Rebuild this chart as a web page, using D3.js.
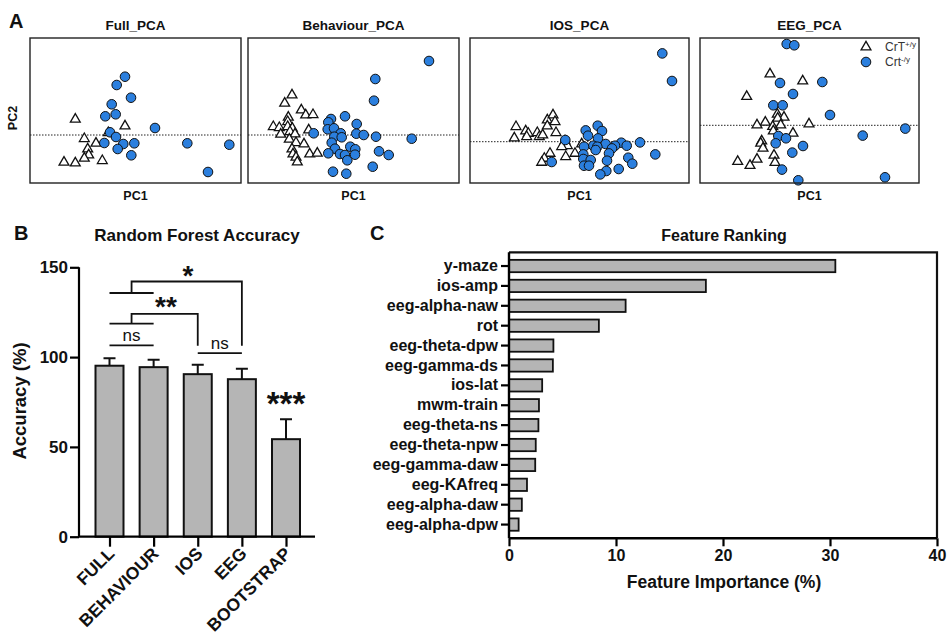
<!DOCTYPE html>
<html>
<head>
<meta charset="utf-8">
<script src="https://cdn.jsdelivr.net/npm/d3@7/dist/d3.min.js"></script>
<style>
  body { margin: 0; background: #fff; }
  text { font-family: "Liberation Sans", Arial, Helvetica, sans-serif; fill: #111; }
</style>
</head>
<body>
<div id="chart"></div>
<script>
// ---- panel A: PCA scatter data (PC1, PC2) ----
var pcaTitles = ["Full_PCA", "Behaviour_PCA", "IOS_PCA", "EEG_PCA"];

var fullWT = [[-5.47,1.57],[-0.5,0.9],[-2.17,0.23],[-4.57,-0.37],[-3.4,-0.83],[-4.23,-1.4],[-4.13,-2.0],[-4.57,-2.33],[-2.77,-2.57],[-6.6,-2.73],[-5.47,-2.8]];
var fullKO = [[-0.5,5.83],[-1.33,5.0],[0.1,3.73],[-1.83,3.07],[-2.47,1.87],[-1.43,2.07],[2.5,0.7],[-2.0,0.27],[-1.4,-0.2],[-2.57,-0.8],[-0.67,-0.9],[0.43,-0.83],[-1.23,-1.4],[0.13,-2.03],[5.73,-0.83],[9.93,-0.97],[7.8,-3.7]];

var behWT = [[-6.1,4.0],[-6.83,3.17],[-5.17,2.5],[-4.73,2.0],[-4.0,2.03],[-6.47,1.77],[-6.53,1.33],[-7.97,0.83],[-7.37,0.73],[-6.53,0.83],[-6.07,0.67],[-7.23,0.07],[-6.3,0.33],[-5.8,0.1],[-4.43,0.5],[-6.37,-0.43],[-5.7,-0.77],[-4.9,-0.9],[-6.1,-1.4],[-6.0,-1.9],[-5.7,-2.23],[-5.57,-2.7],[-4.33,-1.9],[-3.57,-1.83]];
var behKO = [[7.6,7.4],[2.23,5.6],[2.1,3.43],[-0.8,1.87],[-2.2,1.6],[-2.47,1.27],[0.37,1.1],[-2.53,0.57],[-1.9,0.67],[-1.23,0.17],[-3.93,0.17],[0.33,0.13],[1.07,0],[2.3,-0.17],[5.87,-0.37],[-1.87,-0.17],[-1.13,-0.23],[-2.13,-0.77],[-0.27,-1.17],[-1.8,-1.37],[0.23,-1.43],[-2.47,-1.83],[-1.3,-1.9],[-0.8,-2.0],[-0.57,-2.53],[0.2,-1.97],[2.6,-1.63],[3.57,-2.0],[1.97,-3.17],[-2.0,-3.67],[-0.67,-3.87]];

var iosWT = [[-6.4,1.5],[-5.43,1.07],[-5.17,0.83],[-5.33,0.5],[-6.57,0.37],[-4.27,0.9],[-4.07,0.5],[-3.73,0.67],[-3.27,2.17],[-2.7,2.67],[-2.5,2.0],[-3.27,1.57],[-2.4,0.9],[-1.5,0.07],[-1.27,-0.4],[-1.83,-0.5],[-1.43,-1.5],[0.17,-0.23],[-0.5,-1.17],[-3.0,-1.17],[-3.57,-1.67],[-3.83,-2.07]];
var iosKO = [[8.23,8.83],[9.2,6.07],[1.77,1.6],[0.57,1.13],[2.2,1.07],[0.8,0.6],[1.8,0.33],[6.0,-0.07],[4.13,-0.1],[4.67,-0.4],[2.57,-0.23],[3.5,-0.4],[1.33,-0.4],[1.73,-0.5],[0.4,-0.5],[3.2,-0.67],[1.57,-0.83],[2.9,-1.17],[0.33,-1.27],[7.53,-1.27],[4.83,-1.6],[5.23,-2.2],[0.33,-1.73],[1.07,-1.83],[2.7,-1.9],[0.4,-2.4],[0.9,-2.4],[3.87,-2.73],[2.63,-2.93],[2.03,-3.27],[-2.83,-2.03],[-1.47,0.17]];

var eegWT = [[-4.0,5.13],[-0.73,4.43],[-6.33,2.87],[-3.27,1.1],[-2.6,0.8],[-3.23,0.7],[-4.47,0.3],[-5.3,0.03],[-3.73,-0.13],[-2.93,0.03],[-0.1,0.13],[-3.67,-0.57],[-1.7,-0.8],[-4.83,-1.57],[-4.93,-1.8],[-4.7,-2.3],[-3.6,-3.0],[-5.3,-3.4],[-7.23,-3.63],[-6.0,-4.03],[-3.5,-3.73]];
var eegKO = [[-2.33,8.13],[-1.57,8.0],[-3.0,4.23],[1.23,4.33],[-1.7,3.13],[-3.67,2.0],[-2.73,2.0],[2.0,1.03],[9.53,-0.33],[5.27,-1.03],[-3.17,-1.07],[-2.4,-1.3],[-3.43,-1.8],[-0.7,-2.07],[-1.77,-2.73],[-2.8,-4.43],[-1.17,-5.5],[7.5,-5.2]];

var pcaXRange = [[-10,11.1],[-10.5,10.6],[-11,10.9],[-11,10.9]];
var pcaYRange = [[-4.8,9.7],[-4.8,9.7],[-4.13,10.37],[-5.77,8.73]];

// ---- panel B: random forest accuracy ----
var accGroups = ["FULL", "BEHAVIOUR", "IOS", "EEG", "BOOTSTRAP"];
var accMean = [95.2, 94.4, 90.5, 87.7, 54.3];
var accUpper = [99.4, 98.5, 95.7, 93.5, 65.4];
var accTicks = [0, 50, 100, 150];

// ---- panel C: feature ranking ----
var featNames = ["y-maze","ios-amp","eeg-alpha-naw","rot","eeg-theta-dpw","eeg-gamma-ds","ios-lat","mwm-train","eeg-theta-ns","eeg-theta-npw","eeg-gamma-daw","eeg-KAfreq","eeg-alpha-daw","eeg-alpha-dpw"];
var featValues = [30.5, 18.4, 10.9, 8.4, 4.15, 4.1, 3.1, 2.8, 2.75, 2.5, 2.45, 1.68, 1.2, 0.9];
var featTicks = [0, 10, 20, 30, 40];

var blue = "#2b7fde", grey = "#b5b5b5";
var FONT = "Liberation Sans, Arial, sans-serif";

var svg = d3.select("#chart").append("svg")
	.attr("width", 951)
	.attr("height", 639);

svg.append("rect").attr("width", 951).attr("height", 639).attr("fill", "#fff");

// panel letters
svg.append("text").attr("x", 9).attr("y", 28).text("A").attr("font-size", "20px").style("font-weight", "bold");
svg.append("text").attr("x", 14).attr("y", 240).text("B").attr("font-size", "20px").style("font-weight", "bold");
svg.append("text").attr("x", 370).attr("y", 240).text("C").attr("font-size", "20px").style("font-weight", "bold");

// ================= panel A =================
var boxes = [[30,241],[248,459],[470,689],[700,919]];
var boxTop = 38, boxBottom = 183;
var pcaWT = [fullWT, behWT, iosWT, eegWT];
var pcaKO = [fullKO, behKO, iosKO, eegKO];

var tri = d3.symbol().type(d3.symbolTriangle).size(42);

for (var p = 0; p < 4; p++) {
	var xs = d3.scaleLinear().domain(pcaXRange[p]).range(boxes[p]);
	var ys = d3.scaleLinear().domain(pcaYRange[p]).range([boxBottom, boxTop]);
	var g = svg.append("g");

	g.append("text")
		.attr("x", (boxes[p][0] + boxes[p][1]) / 2)
		.attr("y", 30)
		.attr("text-anchor", "middle")
		.attr("font-size", "13.5px")
		.style("font-weight", "bold")
		.text(pcaTitles[p]);

	g.append("text")
		.attr("x", (boxes[p][0] + boxes[p][1]) / 2)
		.attr("y", 200)
		.attr("text-anchor", "middle")
		.attr("font-size", "12.5px")
		.style("font-weight", "bold")
		.text("PC1");

	// zero line
	g.append("line")
		.attr("x1", boxes[p][0]).attr("x2", boxes[p][1])
		.attr("y1", ys(0)).attr("y2", ys(0))
		.attr("stroke", "#222").attr("stroke-width", 1)
		.attr("stroke-dasharray", "1.5,1.5");

	g.selectAll(".wt")
		.data(pcaWT[p])
		.enter()
		.append("path")
		.attr("d", tri)
		.attr("transform", function(d) {return "translate(" + xs(d[0]) + "," + ys(d[1]) + ")";})
		.attr("fill", "#fff")
		.attr("stroke", "#111")
		.attr("stroke-width", 1.3);

	g.selectAll(".ko")
		.data(pcaKO[p])
		.enter()
		.append("circle")
		.attr("cx", function(d) {return xs(d[0]);})
		.attr("cy", function(d) {return ys(d[1]);})
		.attr("r", 4.8)
		.attr("fill", blue)
		.attr("stroke", "#111")
		.attr("stroke-width", 1);

	g.append("rect")
		.attr("x", boxes[p][0]).attr("y", boxTop)
		.attr("width", boxes[p][1] - boxes[p][0])
		.attr("height", boxBottom - boxTop)
		.attr("fill", "none").attr("stroke", "#222").attr("stroke-width", 1.4);
}

svg.append("text")
	.attr("transform", "translate(17,118) rotate(-90)")
	.attr("text-anchor", "middle")
	.attr("font-size", "12.5px")
	.style("font-weight", "bold")
	.text("PC2");

// legend
var leg = svg.append("g");
leg.append("path").attr("d", tri).attr("transform", "translate(866,47)")
	.attr("fill", "#fff").attr("stroke", "#111").attr("stroke-width", 1.3);
leg.append("circle").attr("cx", 866).attr("cy", 62).attr("r", 4.8)
	.attr("fill", blue).attr("stroke", "#111");
var l1 = leg.append("text").attr("x", 885).attr("y", 51).attr("font-size", "12px").style("fill", "#333");
l1.append("tspan").text("CrT");
l1.append("tspan").attr("dy", -4).attr("font-size", "8px").text("+/y");
var l2 = leg.append("text").attr("x", 885).attr("y", 66).attr("font-size", "12px").style("fill", "#333");
l2.append("tspan").text("Crt");
l2.append("tspan").attr("dy", -4).attr("font-size", "8px").text("-/y");

// ================= panel B =================
var bx = d3.scalePoint().domain(accGroups).range([109.5, 286]);
var by = d3.scaleLinear().domain([0, 150]).range([536.7, 267.3]);
var barW = 28;
var gb = svg.append("g");

gb.append("text")
	.attr("x", 197).attr("y", 241)
	.attr("text-anchor", "middle")
	.attr("font-size", "17px")
	.style("font-weight", "bold")
	.text("Random Forest Accuracy");

gb.selectAll(".err")
	.data(accGroups)
	.enter()
	.append("path")
	.attr("d", function(d, i) {
		var cx = bx(d);
		return "M" + cx + "," + by(accMean[i]) + "V" + by(accUpper[i]) + "M" + (cx - 6) + "," + by(accUpper[i]) + "H" + (cx + 6);
	})
	.attr("stroke", "#111").attr("stroke-width", 2).attr("fill", "none");

gb.selectAll(".bar")
	.data(accGroups)
	.enter()
	.append("rect")
	.attr("x", function(d) {return bx(d) - barW / 2;})
	.attr("y", function(d, i) {return by(accMean[i]);})
	.attr("width", barW)
	.attr("height", function(d, i) {return by(0) - by(accMean[i]);})
	.attr("fill", grey)
	.attr("stroke", "#111")
	.attr("stroke-width", 2);

var yAxisB = gb.append("g")
	.attr("transform", "translate(79,0)")
	.call(d3.axisLeft(by).tickValues(accTicks).tickSize(9).tickPadding(2));
yAxisB.select(".domain").attr("stroke-width", 2.2).attr("d", "M0," + by(150) + "V" + by(0));
yAxisB.selectAll(".tick line").attr("stroke-width", 2.2);
yAxisB.selectAll(".tick text").attr("font-size", "17px").style("font-weight", "bold")
	.attr("font-family", FONT).attr("fill", "#111");

var xAxisB = gb.append("g")
	.attr("transform", "translate(0," + by(0) + ")")
	.call(d3.axisBottom(bx).tickSize(10).tickFormat(""));
xAxisB.select(".domain").attr("stroke-width", 2.2).attr("d", "M79,0H315");
xAxisB.selectAll(".tick line").attr("stroke-width", 2.2);

gb.selectAll(".xl")
	.data(accGroups)
	.enter()
	.append("text")
	.attr("transform", function(d) {return "translate(" + (bx(d) + 6) + "," + (by(0) + 18) + ") rotate(-45)";})
	.attr("text-anchor", "end")
	.attr("font-size", "17.5px")
	.style("font-weight", "bold")
	.text(function(d) {return d;});

gb.append("text")
	.attr("transform", "translate(26,401) rotate(-90)")
	.attr("text-anchor", "middle")
	.attr("font-size", "18.5px")
	.style("font-weight", "bold")
	.text("Accuracy (%)");

// significance brackets
var midFB = (bx("FULL") + bx("BEHAVIOUR")) / 2;
var brackets = [
	{low: 135.7, high: 142.1, to: "EEG", label: "*", lx: 188, ly: 148, size: 28},
	{low: 118.6, high: 124.1, to: "IOS", label: "**", lx: 166, ly: 130.5, size: 28}
];
brackets.forEach(function(b) {
	gb.append("path")
		.attr("d", "M" + bx("FULL") + "," + by(b.low) + "H" + bx("BEHAVIOUR") +
			"M" + midFB + "," + by(b.low) + "V" + by(b.high) + "H" + bx(b.to) + "V" + by(106.3))
		.attr("stroke", "#111").attr("stroke-width", 1.8).attr("fill", "none");
	gb.append("text")
		.attr("x", b.lx).attr("y", by(b.ly) + 14)
		.attr("text-anchor", "middle")
		.attr("font-size", b.size + "px")
		.style("font-weight", "bold")
		.text(b.label);
});

gb.append("path")
	.attr("d", "M" + bx("FULL") + "," + by(106.5) + "H" + bx("BEHAVIOUR") +
		"M" + bx("IOS") + "," + by(102.2) + "H" + bx("EEG"))
	.attr("stroke", "#111").attr("stroke-width", 1.8);
gb.append("text").attr("x", midFB).attr("y", by(108.8)).attr("text-anchor", "middle")
	.attr("font-size", "17px").text("ns");
gb.append("text").attr("x", (bx("IOS") + bx("EEG")) / 2).attr("y", by(104.3)).attr("text-anchor", "middle")
	.attr("font-size", "17px").text("ns");
gb.append("text").attr("x", bx("BOOTSTRAP")).attr("y", by(75) + 13).attr("text-anchor", "middle")
	.attr("font-size", "33px").style("font-weight", "bold").text("***");

// ================= panel C =================
var cx = d3.scaleLinear().domain([0, 40]).range([509, 937]);
var cy = d3.scaleBand().domain(featNames).range([252.3, 538.3]).paddingInner(0.38).paddingOuter(0.38);
var gc = svg.append("g");

gc.append("text")
	.attr("x", 724).attr("y", 241)
	.attr("text-anchor", "middle")
	.attr("font-size", "16px")
	.style("font-weight", "bold")
	.text("Feature Ranking");

gc.selectAll(".bar")
	.data(featNames)
	.enter()
	.append("rect")
	.attr("x", cx(0))
	.attr("y", function(d) {return cy(d);})
	.attr("width", function(d, i) {return cx(featValues[i]) - cx(0);})
	.attr("height", cy.bandwidth())
	.attr("fill", grey)
	.attr("stroke", "#111")
	.attr("stroke-width", 1.8);

// frame top/right
gc.append("path")
	.attr("d", "M" + cx(0) + "," + 252.3 + "H" + cx(40) + "V" + 538.3)
	.attr("stroke", "#111").attr("stroke-width", 2.2).attr("fill", "none");

var yAxisC = gc.append("g")
	.attr("transform", "translate(" + cx(0) + ",0)")
	.call(d3.axisLeft(cy).tickSize(8).tickPadding(3));
yAxisC.select(".domain").attr("stroke-width", 2.4).attr("d", "M0,252.3V538.3");
yAxisC.selectAll(".tick line").attr("stroke-width", 2.2);
yAxisC.selectAll(".tick text").attr("font-size", "16px").style("font-weight", "bold")
	.attr("font-family", FONT).attr("fill", "#111");

var xAxisC = gc.append("g")
	.attr("transform", "translate(0,538.3)")
	.call(d3.axisBottom(cx).tickValues(featTicks).tickSize(8).tickPadding(3));
xAxisC.select(".domain").attr("stroke-width", 2.4).attr("d", "M" + cx(0) + ",0H" + cx(40));
xAxisC.selectAll(".tick line").attr("stroke-width", 2.2);
xAxisC.selectAll(".tick text").attr("font-size", "16px").style("font-weight", "bold")
	.attr("font-family", FONT).attr("fill", "#111");

gc.append("text")
	.attr("x", 724).attr("y", 588)
	.attr("text-anchor", "middle")
	.attr("font-size", "17.5px")
	.style("font-weight", "bold")
	.text("Feature Importance (%)");
</script>
</body>
</html>
